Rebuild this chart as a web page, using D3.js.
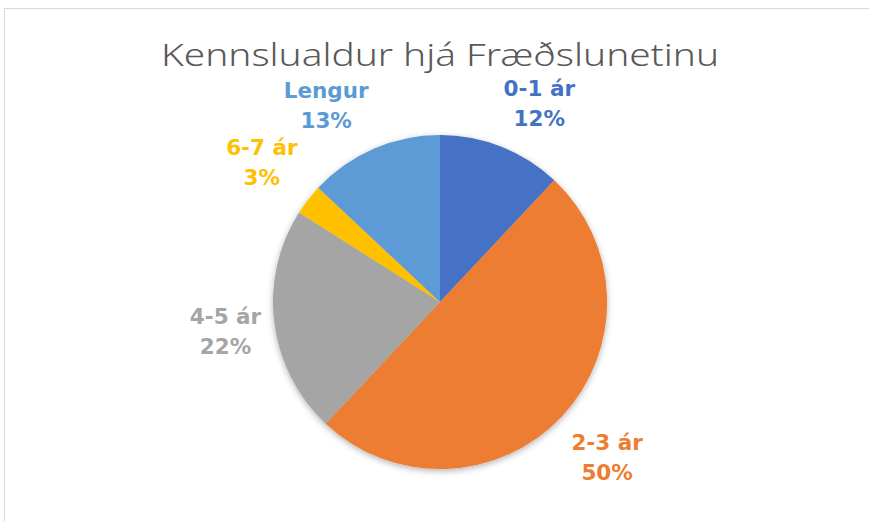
<!DOCTYPE html>
<html>
<head>
<meta charset="utf-8">
<script src="https://cdn.jsdelivr.net/npm/d3@7"></script>
<style>
  body { margin: 0; background: #fff; }
  svg { display: block; }
</style>
</head>
<body>
<div id="chart"></div>
<script>
// chart values
var categories = ["0-1 ár", "2-3 ár", "4-5 ár", "6-7 ár", "Lengur"];
var values = [12, 50, 22, 3, 13];
var colors = ["#4472C4", "#ED7D31", "#A5A5A5", "#FFC000", "#5B9BD5"];
var title = "Kennslualdur hjá Fræðslunetinu";

var chart = { width: 869, height: 521, cx: 440, cy: 302, r: 167 };

var svg = d3.select("#chart").append("svg")
    .attr("width", chart.width)
    .attr("height", chart.height);

// chart frame (only top and left edges show in the window)
svg.append("rect")
    .attr("x", 4.5).attr("y", 8.5)
    .attr("width", 1000).attr("height", 1000)
    .attr("fill", "none")
    .attr("stroke", "#d9d9d9")
    .attr("stroke-width", 1);

var defs = svg.append("defs");
var f = defs.append("filter").attr("id", "shadow")
    .attr("x", "-20%").attr("y", "-20%").attr("width", "140%").attr("height", "140%");
f.append("feDropShadow")
    .attr("dx", 0).attr("dy", 2).attr("stdDeviation", 3)
    .attr("flood-color", "#000").attr("flood-opacity", 0.3);

svg.append("text")
    .attr("x", chart.cx).attr("y", 66)
    .attr("text-anchor", "middle")
    .attr("font-family", "'Noto Sans', 'DejaVu Sans', sans-serif")
    .attr("font-weight", 300)
    .attr("font-size", 31)
    .attr("fill", "#595959")
    .attr("textLength", 558)
    .attr("lengthAdjust", "spacingAndGlyphs")
    .text(title);

var color = d3.scaleOrdinal().domain(categories).range(colors);

var pie = d3.pie().sort(null).value(function(d, i) { return values[i]; });
var arcs = pie(categories);
var arc = d3.arc().innerRadius(0).outerRadius(chart.r);

var g = svg.append("g")
    .attr("transform", "translate(" + chart.cx + "," + chart.cy + ")");

g.append("g").attr("filter", "url(#shadow)")
  .selectAll("path")
    .data(arcs)
    .enter().append("path")
    .attr("d", arc)
    .attr("fill", function(d) { return color(d.data); });

// labels outside the end of each slice; translate = centre of the label block
var labelR = chart.r + 13;
var clamp = function(v) { return Math.max(-1, Math.min(1, v)); };
var lab = g.selectAll(".lab")
    .data(arcs)
    .enter().append("g")
    .attr("class", "lab");

lab.each(function(d) {
    var a = (d.startAngle + d.endAngle) / 2;
    var s = Math.sin(a), c = Math.cos(a);
    var t = d3.select(this).append("text")
        .attr("text-anchor", "middle")
        .attr("font-family", "'DejaVu Sans', 'Noto Sans', sans-serif")
        .attr("font-weight", "bold")
        .attr("font-size", 21.5)
        .attr("fill", color(d.data));
    t.append("tspan").attr("x", 0).attr("y", -7).text(d.data);
    t.append("tspan").attr("x", 0).attr("y", 23).text(d.value + "%");
    var w = this.getBBox().width, h = 64;
    var x = labelR * s + w / 2 * clamp(s * 2.5);
    var y = -labelR * c - h / 2 * clamp(c * 1.5);
    d3.select(this).attr("transform", "translate(" + x + "," + y + ")");
});
</script>
</body>
</html>
